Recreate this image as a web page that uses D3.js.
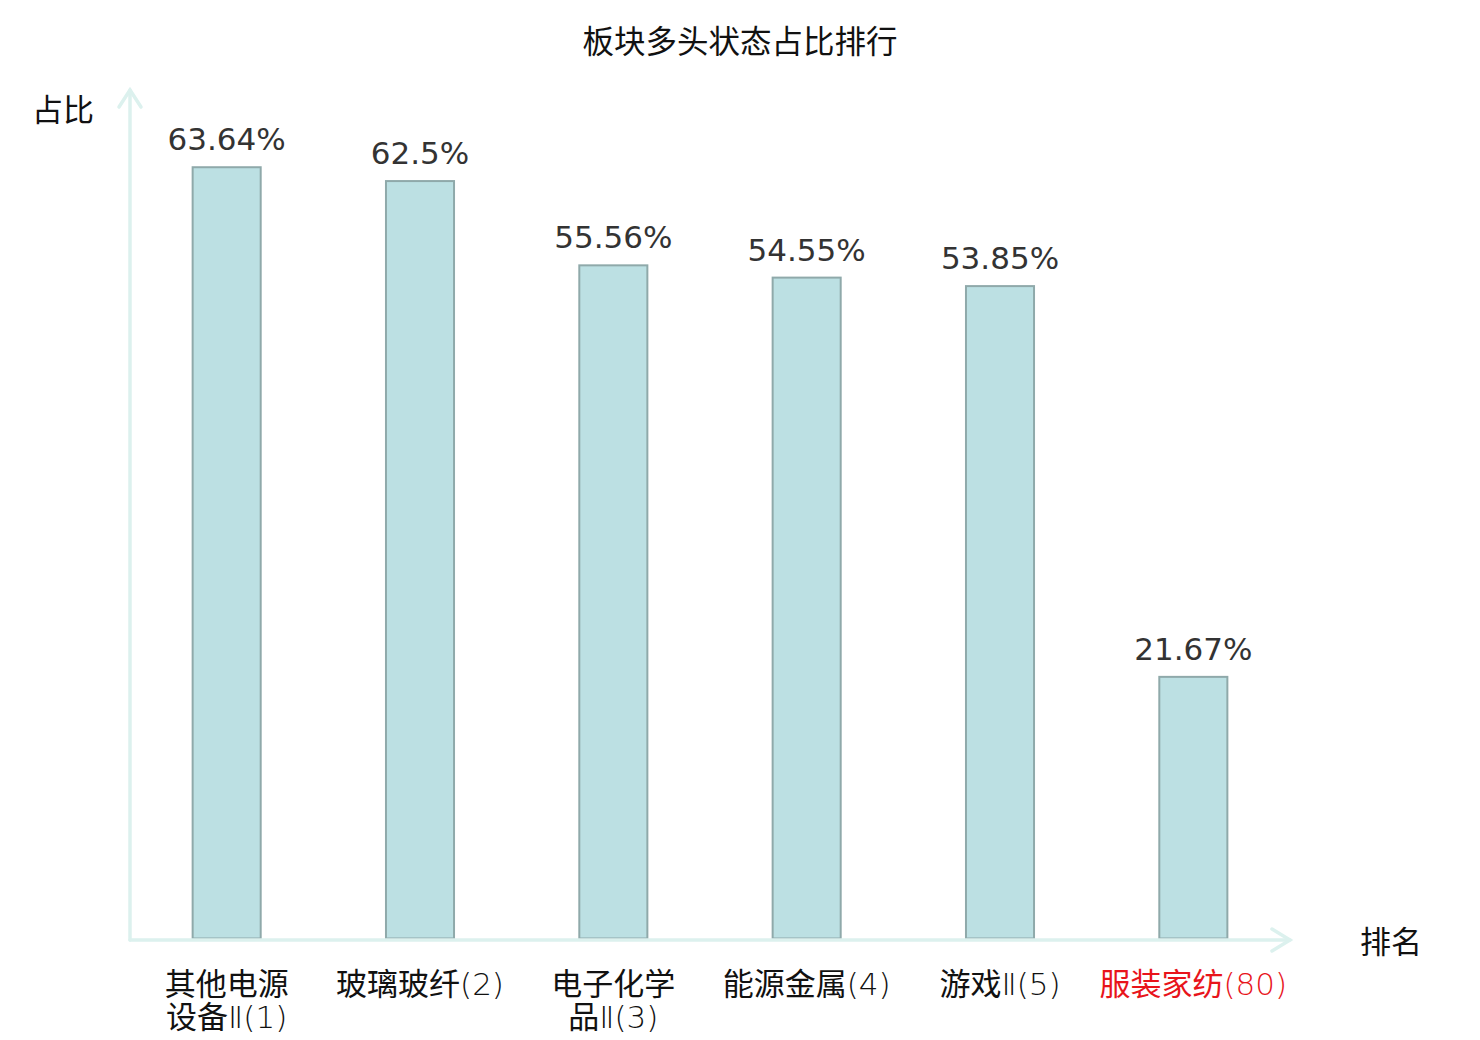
<!DOCTYPE html>
<html>
<head>
<meta charset="utf-8">
<script src="https://cdn.jsdelivr.net/npm/d3@7"></script>
<style>
  body { margin: 0; background: #fff; }
  svg { display: block; }
</style>
</head>
<body>
<div id="chart"></div>
<script>
// data
const sectors = ["其他电源设备Ⅱ", "玻璃玻纤", "电子化学品Ⅱ", "能源金属", "游戏Ⅱ", "服装家纺"];
const ranks = [1, 2, 3, 4, 5, 80];
const shares = [63.64, 62.5, 55.56, 54.55, 53.85, 21.67];
const valueLabels = ["63.64%", "62.5%", "55.56%", "54.55%", "53.85%", "21.67%"];

const width = 1480;
const height = 1040;
const cjk = "'Noto Sans CJK SC', 'Noto Sans', sans-serif";
const thin = "'DejaVu Sans', sans-serif";
const axisColor = "#dcf1ee";

const svg = d3.select("#chart")
  .append("svg")
  .attr("width", width)
  .attr("height", height);

const x = d3.scaleBand()
  .domain(sectors)
  .range([130, 1290])
  .paddingInner(0.648)
  .paddingOuter(0.324);

const y = d3.scaleLinear()
  .domain([0, 70])
  .range([940, 90]);

svg.append("text")
  .text("板块多头状态占比排行")
  .attr("x", width / 2)
  .attr("y", 53)
  .attr("text-anchor", "middle")
  .attr("font-family", cjk)
  .attr("font-size", 31.5)
  .attr("fill", "#111");

// bars
svg.selectAll("rect.bar")
  .data(sectors)
  .enter()
  .append("rect")
  .attr("class", "bar")
  .attr("x", d => x(d))
  .attr("width", x.bandwidth())
  .attr("y", (d, i) => y(shares[i]))
  .attr("height", (d, i) => y(0) - 1.5 - y(shares[i]))
  .attr("fill", "#bce0e3")
  .attr("stroke", "#8fa9aa")
  .attr("stroke-width", 2);

svg.selectAll("text.value")
  .data(sectors)
  .enter()
  .append("text")
  .attr("class", "value")
  .attr("x", d => x(d) + x.bandwidth() / 2)
  .attr("y", (d, i) => y(shares[i]) - 17)
  .attr("text-anchor", "middle")
  .attr("font-family", "'DejaVu Sans', sans-serif")
  .attr("font-size", 31)
  .attr("fill", "#333")
  .text((d, i) => valueLabels[i]);

// axes with open arrow heads
const axes = svg.append("g")
  .attr("stroke", axisColor)
  .attr("stroke-width", 3.5)
  .attr("fill", "none")
  .attr("stroke-linecap", "round");

const x0 = x.range()[0];
const x1 = x.range()[1];

axes.append("path")
  .attr("d", d3.line()([[x0, y(0)], [x0, y.range()[1]]]));
axes.append("path")
  .attr("d", d3.line()([[x0 - 11, y.range()[1] + 17], [x0, y.range()[1]], [x0 + 11, y.range()[1] + 17]]));

axes.append("path")
  .attr("d", d3.line()([[x0, y(0)], [x1, y(0)]]));
axes.append("path")
  .attr("d", d3.line()([[x1 - 18, y(0) - 11], [x1, y(0)], [x1 - 18, y(0) + 11]]));

svg.append("text")
  .text("占比")
  .attr("x", 63)
  .attr("y", 121)
  .attr("text-anchor", "middle")
  .attr("font-family", cjk)
  .attr("font-size", 31)
  .attr("fill", "#111");

svg.append("text")
  .text("排名")
  .attr("x", 1391)
  .attr("y", 953)
  .attr("text-anchor", "middle")
  .attr("font-family", cjk)
  .attr("font-size", 31)
  .attr("fill", "#111");

// category labels, names longer than 4 characters wrap onto a second line;
// the roman numeral and the rank are set in a thin latin face
const isCjk = ch => /[\u4e00-\u9fff]/.test(ch);

const labels = svg.selectAll("text.cat")
  .data(sectors)
  .enter()
  .append("text")
  .attr("class", "cat")
  .attr("text-anchor", "middle")
  .attr("font-family", cjk)
  .attr("font-size", 31)
  .attr("fill", (d, i) => i === sectors.length - 1 ? "#e8141b" : "#111");

labels.each(function (d, i) {
  const cx = x(d) + x.bandwidth() / 2;
  const chars = Array.from(d);
  const lines = [];
  for (let k = 0; k < chars.length; k += 4) lines.push(chars.slice(k, k + 4));
  lines[lines.length - 1] = lines[lines.length - 1].concat(Array.from("(" + ranks[i] + ")"));

  const t = d3.select(this);
  lines.forEach((line, j) => {
    // group consecutive characters of the same kind
    const runs = [];
    line.forEach(ch => {
      const c = isCjk(ch);
      if (runs.length && runs[runs.length - 1].c === c) runs[runs.length - 1].s += ch;
      else runs.push({ c, s: ch });
    });
    runs.forEach((r, k) => {
      const ts = t.append("tspan").text(r.s);
      if (k === 0) ts.attr("x", cx).attr("y", 995 + j * 33);
      if (!r.c) ts.attr("font-family", thin).attr("font-weight", 200);
    });
  });
});
</script>
</body>
</html>
